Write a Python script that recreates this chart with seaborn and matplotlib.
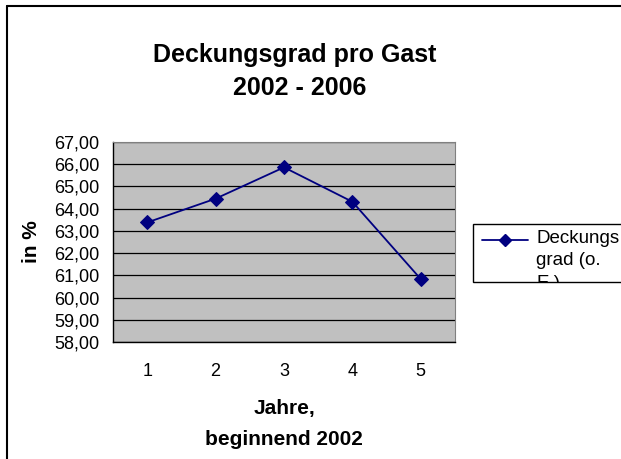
import matplotlib
matplotlib.use('Agg')
import matplotlib.pyplot as plt
import seaborn as sns
import pandas as pd
import numpy as np
from matplotlib.lines import Line2D
from matplotlib.patches import Rectangle

# Data
jahre = [1, 2, 3, 4, 5]
deckungsgrad = [63.38, 64.45, 65.86, 64.31, 60.83]
y_ticks = [58, 59, 60, 61, 62, 63, 64, 65, 66, 67]

df = pd.DataFrame({'jahr': jahre, 'wert': deckungsgrad})

sns.set_style('white', {'text.color': 'black', 'axes.labelcolor': 'black',
                        'xtick.color': 'black', 'ytick.color': 'black'})
plt.rcParams['font.family'] = ['Liberation Sans', 'DejaVu Sans']

fig = plt.figure(figsize=(6.21, 4.59), dpi=100)
ax = fig.add_axes([113 / 621, 1 - 342 / 459, 342 / 621, 200 / 459])
ax.set_facecolor('#C0C0C0')

sns.lineplot(data=df, x='jahr', y='wert', ax=ax, color='#000080', marker='D',
             markersize=7, markeredgecolor='#000080', linewidth=1.3)

ax.set_xlim(0.5, 5.5)
ax.set_ylim(58, 67)
ax.set_yticks(y_ticks)
ax.set_yticklabels([f'{t:.2f}'.replace('.', ',') for t in y_ticks], fontsize=13)
ax.yaxis.grid(True, color='black', linewidth=0.9)
ax.set_axisbelow(True)

ax.set_xticks(jahre)
ax.set_xticklabels([str(j) for j in jahre], fontsize=13)
ax.set_xticks(np.arange(0.5, 6, 1), minor=True)
ax.tick_params(axis='x', which='major', length=0, pad=15)
ax.tick_params(axis='x', which='minor', length=5, width=1, color='black', direction='out')
ax.tick_params(axis='y', length=5, width=1, color='black', direction='out', pad=5)

for side in ['left', 'bottom']:
    ax.spines[side].set_color('black')
    ax.spines[side].set_linewidth(1)
ax.spines['top'].set_color('#808080')
ax.spines['right'].set_color('#808080')

ax.set_xlabel('Jahre,\nbeginnend 2002', fontsize=15, fontweight='bold', labelpad=14,
              linespacing=1.75)
ax.set_ylabel('in %', fontsize=15, fontweight='bold', labelpad=9)

fig.text(295 / 621, 1 - 55 / 459, 'Deckungsgrad pro Gast', ha='center', va='center',
         fontsize=18, fontweight='bold')
fig.text(300 / 621, 1 - 88 / 459, '2002 - 2006', ha='center', va='center',
         fontsize=18, fontweight='bold')

# outer chart border (only top and left visible)
fig.add_artist(Line2D([7 / 621, 7 / 621], [0, 1 - 6 / 459], transform=fig.transFigure,
                      color='black', linewidth=1.5))
fig.add_artist(Line2D([7 / 621, 1], [1 - 6 / 459, 1 - 6 / 459], transform=fig.transFigure,
                      color='black', linewidth=1.5))

# legend box, text clipped like the original
box = Rectangle((473 / 621, 1 - 282 / 459), 150 / 621, 58 / 459, transform=fig.transFigure,
                facecolor='white', edgecolor='black', linewidth=1)
fig.add_artist(box)
fig.add_artist(Line2D([482 / 621, 528 / 621], [1 - 240 / 459, 1 - 240 / 459],
                      transform=fig.transFigure, color='#000080', linewidth=1.3))
fig.add_artist(Line2D([505 / 621], [1 - 240 / 459], transform=fig.transFigure,
                      color='#000080', marker='D', markersize=6, linestyle='none'))
leg_txt = fig.text(536 / 621, 1 - 230 / 459, 'Deckungs\ngrad (o.\nE.)', ha='left', va='top',
                   fontsize=13.5, linespacing=1.42)
leg_txt.set_clip_path(box)

fig.savefig('out.png', dpi=100)
